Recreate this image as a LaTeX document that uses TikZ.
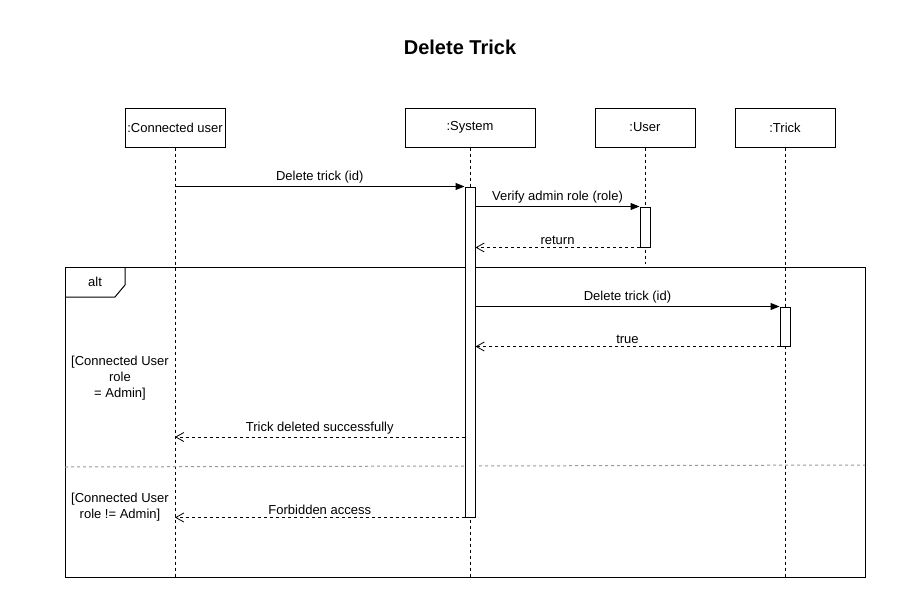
\documentclass[tikz,border=0pt]{standalone}
\usepackage{fontspec}
\setmainfont{Liberation Sans}
\usetikzlibrary{positioning,arrows.meta}
\tikzset{
	titulo/.style={font=\bfseries\fontsize{20}{24}\selectfont},
	head/.style={rectangle, draw, line width=1pt, fill=white,
		minimum width=100pt, minimum height=39pt, inner sep=0pt,
		font=\fontsize{13}{15}\selectfont},
	lifeline/.style={line width=1pt, dash pattern=on 3pt off 3pt},
	activation/.style={rectangle, draw, line width=1pt, fill=white,
		minimum width=10pt, inner sep=0pt},
	call/.style={line width=1pt, -{Triangle[length=9pt,width=7pt]}},
	reply/.style={line width=1pt, dash pattern=on 3pt off 3pt,
		-{Straight Barb[length=8pt,width=9pt,line width=0.8pt]}},
	msglabel/.style={above=1.5pt, inner sep=1pt, font=\fontsize{13}{15}\selectfont},
	guard/.style={align=center, inner sep=0pt, font=\fontsize{13}{16}\selectfont},
	frame/.style={line width=1pt}
}

\begin{document}
\begin{tikzpicture}[x=1pt, y=-1pt]
	\useasboundingbox[fill=white] (0,0) rectangle (921,613);

	\node[titulo] (title) at (460,47) {Delete Trick};

	% participantes
	\node[head] (cu) at (175,127.5) {:Connected user};
	\node[head, minimum width=130pt, right=179pt of cu] (sys) {:System};
	\node[head, right=59pt of sys] (usr) {:User};
	\node[head, right=39pt of usr] (trk) {:Trick};

	\coordinate (cuEnd) at (175,577);
	\coordinate (sysEnd) at (470,577);
	\coordinate (usrEnd) at (645,264);
	\coordinate (trkEnd) at (785,577);
	\coordinate (okRow) at (0,437);

	% lifelines
	\draw[lifeline] (cu.south) -- (cuEnd);
	\draw[lifeline] (sys.south) -- (sysEnd);
	\draw[lifeline] (usr.south) -- (usrEnd);
	\draw[lifeline] (trk.south) -- (trkEnd);

	% alt frame
	\draw[frame] (65,267) rectangle (865,577);
	\draw[frame] (65,297) -- (115,297) -- (125,285) -- (125,267);
	\node[font=\fontsize{13}{15}\selectfont] (alt) at (95,282) {alt};
	\draw[black!40, line width=1pt, dash pattern=on 3pt off 3pt] (65,467) -- (865,465);

	% activaciones
	\node[activation, minimum height=330pt] (sysAct) at (470,352) {};
	\node[activation, minimum height=40pt] (usrAct) at (645,227) {};
	\node[activation, minimum height=39pt] (trkAct) at (785,326.5) {};

	% mensajes
	\draw[call] (cu.south |- sysAct.north west) -- node[msglabel] {Delete trick (id)} (sysAct.north west);
	\draw[call] (sysAct.east |- usrAct.north) -- node[msglabel] {Verify admin role (role)} (usrAct.north west);
	\draw[reply] (usrAct.south west) -- node[msglabel] {return} (sysAct.east |- usrAct.south);
	\draw[call] (sysAct.east |- trkAct.north) -- node[msglabel] {Delete trick (id)} (trkAct.north west);
	\draw[reply] (trkAct.south west) -- node[msglabel] {true} (sysAct.east |- trkAct.south);
	\draw[reply] (sysAct.west |- okRow) -- node[msglabel] {Trick deleted successfully} (cu.south |- okRow);
	\draw[reply] (sysAct.south west) -- node[msglabel] {Forbidden access} (cu.south |- sysAct.south);

	% guardas
	\node[guard] (guardOk) at (120,378) {[Connected User\\role\\= Admin]};
	\node[guard] (guardNo) at (120,507) {[Connected User\\role != Admin]};
\end{tikzpicture}
\end{document}
